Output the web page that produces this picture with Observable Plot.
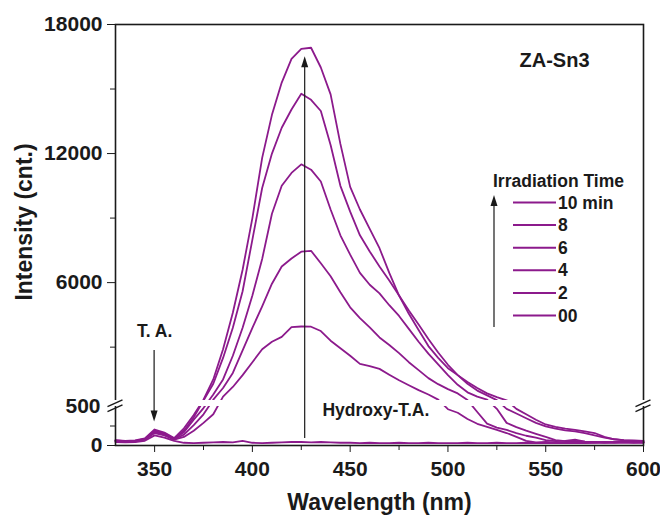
<!DOCTYPE html>
<html><head><meta charset="utf-8">
<script src="https://cdn.jsdelivr.net/npm/d3@7"></script>
<script src="https://cdn.jsdelivr.net/npm/@observablehq/plot@0.6"></script>
<style>
html,body{margin:0;padding:0;background:#fff;}
#chart svg{display:block;}
</style></head><body><div id="chart"></div>
<script>
const wavelengths = [330,335,340,345,350,355,360,365,370,375,380,385,390,395,400,405,410,415,420,425,430,435,440,445,450,455,460,465,470,475,480,485,490,495,500,505,510,515,520,525,530,535,540,545,550,555,560,565,570,575,580,585,590,595,600];
const series = ["10 min","8","6","4","2","00"];
const int10 = [70,60,65,90,205,165,95,220,390,560, 1500,2900,4600,6600,9000,11800,13800,15300,16400,16870, 16920,16000,14750,12450,10450,9400,8500,7600,6450,5400, 4550,3800,3050,2500,2020,1700,1380,1100,850,680, 530,470,400,330,270,240,215,200,180,160, 110,80,70,65,60];
const int8 = [65,55,60,85,190,155,90,190,360,520, 1300,2500,3900,5600,8000,10400,12000,13200,14050,14780, 14500,13980,12400,10500,9300,8200,7450,6750,6100,5400, 4700,4050,3380,2750,2180,1700,1300,980,760,540, 470,410,350,290,245,215,195,180,160,130, 100,80,65,60,55];
const int6 = [60,50,55,80,180,145,85,170,330,480, 800,1500,2600,3900,5400,7100,9200,10500,11100,11500, 11250,10700,9400,8200,7300,6450,5900,5500,4950,4450, 3850,3250,2700,2200,1700,1250,900,700,560,470, 290,235,190,150,110,70,55,60,50,45, 40,45,40,45,40];
const int4 = [60,50,55,80,170,140,80,140,260,400, 560,1100,1800,2850,3900,4900,5950,6750,7120,7440, 7480,6900,6300,5550,4850,4350,3920,3450,3100,2720, 2300,1930,1560,1280,1050,850,540,430,280,230, 200,160,125,100,70,55,60,75,50,40, 45,40,45,40,35];
const int2 = [55,45,50,75,160,130,75,110,190,290, 400,700,1150,1700,2300,2900,3250,3480,3930,3960, 3950,3750,3300,2950,2600,2220,2120,1990,1720,1460, 1230,1000,800,560,465,420,340,278,240,200, 160,110,60,40,45,40,35,40,35,40, 35,40,45,40,45];
const int0 = [45,40,45,60,130,100,60,35,30,35, 40,45,40,58,35,30,35,40,45,45, 40,45,40,35,35,30,35,30,30,35, 30,30,35,30,30,30,35,30,30,35, 30,30,35,30,30,35,30,35,30,35, 40,35,40,35,40];
const seriesValues = [int10,int8,int6,int4,int2,int0];

const xMajor = [350,400,450,500,550,600];
const xMinor = [375,425,475,525,575];
const yMajor = [0,6000,12000,18000];
const yMinor = [250,3000,9000,15000];
const yBreakLabel = [500];
const breakLo = 500, breakHi = 520;

const arrowData = [{x:350, from:2845, to:300}, {x:427, from:90, to:16500}];
const notesMiddle = [{x:350, y:3728, text:"T. A."}];
const notesStart = [{x:435.8, y:449, text:"Hydroxy-T.A."}];

const PURPLE = "#8c1a8c";
const INK = "#1a1a1a";
const FONT = "'Liberation Sans', Arial, Helvetica, sans-serif";

const rows = [];
series.forEach((s, k) => wavelengths.forEach((w, i) => rows.push({wl: w, v: seriesValues[k][i], s})));

const W = 660, H = 516;
const M = {top: 24, right: 17, bottom: 71, left: 115};
const yBottom = H - M.bottom;

function breakMarks(index, scales, values, dims) {
  const g = d3.create("svg:g").attr("stroke", INK).attr("stroke-width", 1.4);
  const ym = scales.y(breakLo);
  for (const xv of [330, 600]) {
    const x = scales.x(xv);
    for (const c of [ym - 2.8, ym + 2.2]) {
      g.append("line").attr("x1", x - 7.5).attr("y1", c + 3.4).attr("x2", x + 7.5).attr("y2", c - 3.4);
    }
  }
  return g.node();
}

function arrowsMark(index, scales) {
  const g = d3.create("svg:g");
  for (const a of arrowData) {
    const px = scales.x(a.x), p0 = scales.y(a.from), p1 = scales.y(a.to);
    const dir = Math.sign(p1 - p0);
    g.append("line").attr("x1", px).attr("x2", px).attr("y1", p0).attr("y2", p1 - dir * 8)
      .attr("stroke", INK).attr("stroke-width", 1.2);
    g.append("path").attr("d", `M${px},${p1}L${px - 3.5},${p1 - dir * 11}L${px + 3.5},${p1 - dir * 11}Z`).attr("fill", INK);
  }
  return g.node();
}

function legendMark(index, scales, values, dims) {
  const R = dims.width - dims.marginRight;
  const g = d3.create("svg:g").attr("font-family", FONT).attr("font-weight", "bold").attr("font-size", 17.5)
    .attr("fill", INK).attr("text-anchor", "start");
  g.append("text").attr("x", R - 150).attr("y", 181).attr("dy", "0.35em").text("Irradiation Time");
  series.forEach((t, i) => {
    const y = 202.5 + i * 22.6;
    g.append("line").attr("x1", R - 130).attr("x2", R - 87).attr("y1", y).attr("y2", y)
      .attr("stroke", PURPLE).attr("stroke-width", 2);
    g.append("text").attr("x", R - 85).attr("y", y).attr("dy", "0.35em").text(t);
  });
  g.append("line").attr("x1", R - 149).attr("x2", R - 149).attr("y1", 327).attr("y2", 204)
    .attr("stroke", INK).attr("stroke-width", 1.2);
  g.append("path").attr("d", `M${R - 149},195L${R - 152.5},206L${R - 145.5},206Z`).attr("fill", INK);
  return g.node();
}

const chart = Plot.plot({
  width: W, height: H,
  marginTop: M.top, marginRight: M.right, marginBottom: M.bottom, marginLeft: M.left,
  style: {fontFamily: FONT, fontWeight: "bold", fontSize: "21px", color: INK, background: "#fff"},
  x: {type: "linear", domain: [330, 600], label: null},
  y: {type: "linear", domain: [0, breakLo, breakHi, 18000], range: [yBottom, yBottom - 39, yBottom - 45, M.top], label: null},
  marks: [
    Plot.line(rows, {x: "wl", y: "v", z: "s", stroke: PURPLE, strokeWidth: 1.8}),
    Plot.frame({stroke: INK, strokeWidth: 1.6}),
    Plot.rect([0], {x1: 330, x2: 600, y1: breakLo, y2: breakHi, fill: "white", insetLeft: -4, insetRight: -4}),
    breakMarks,
    arrowsMark,
    Plot.axisX({ticks: xMajor, tickSize: 7, tickPadding: 9, tickFormat: d => String(d), fontSize: 21, fontWeight: "bold", label: null}),
    Plot.axisX({ticks: xMinor, tickSize: 5, tickFormat: () => "", label: null}),
    Plot.axisY({ticks: yMajor, tickSize: 8, tickPadding: 5, tickFormat: d => String(d), fontSize: 21, fontWeight: "bold", label: null}),
    Plot.axisY({ticks: yMinor, tickSize: 5, tickFormat: () => "", label: null}),
    Plot.axisY({ticks: yBreakLabel, tickSize: 0, tickPadding: 15, tickFormat: d => String(d), fontSize: 21, fontWeight: "bold", label: null}),
    Plot.text(notesMiddle, {x: "x", y: "y", text: "text", textAnchor: "middle", fontSize: 17.5, fontWeight: "bold", fill: INK}),
    Plot.text(notesStart, {x: "x", y: "y", text: "text", textAnchor: "start", fontSize: 17.5, fontWeight: "bold", fill: INK}),
    Plot.text(["ZA-Sn3"], {frameAnchor: "top-right", dx: -89, dy: 36, textAnchor: "middle", lineAnchor: "middle", fontSize: 20, fontWeight: "bold", fill: INK}),
    legendMark,
    Plot.text(["Wavelength (nm)"], {frameAnchor: "bottom", dy: 57, textAnchor: "middle", lineAnchor: "middle", fontSize: 23, fontWeight: "bold", fill: INK}),
    Plot.text(["Intensity (cnt.)"], {frameAnchor: "left", rotate: -90, dx: -91, dy: -13, textAnchor: "middle", lineAnchor: "middle", fontSize: 23, fontWeight: "bold", fill: INK})
  ]
});
document.getElementById("chart").appendChild(chart);
</script></body></html>
